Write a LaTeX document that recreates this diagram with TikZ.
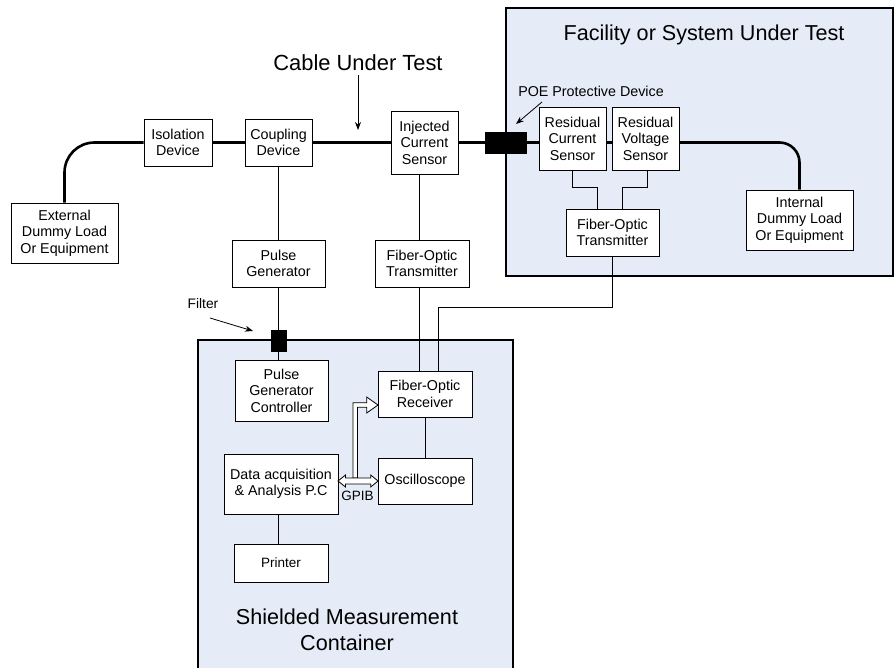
\documentclass[tikz,border=0pt]{standalone}
\usepackage{fontspec}
\setmainfont{Liberation Sans}
\usetikzlibrary{arrows.meta}
\definecolor{bgblue}{RGB}{230,236,247}
\begin{document}
\begin{tikzpicture}[x=1pt,y=-1pt,
  box/.style={draw, fill=white, line width=0.8pt, inner sep=0pt, align=center,
    font=\fontsize{14.3}{16.6}\selectfont},
  cable/.style={line width=2.6pt},
  wire/.style={line width=0.8pt},
  container/.style={draw, line width=1.8pt, fill=bgblue},
  ptr/.style={line width=0.8pt, -{Stealth[length=8pt,width=6pt]}},
  hollow/.style={draw, line width=0.8pt, fill=white, line join=miter},
  title/.style={font=\fontsize{21.6}{26.5}\selectfont, align=center, inner sep=0pt},
  lbl/.style={font=\fontsize{14.3}{16.6}\selectfont, inner sep=0pt}
]
\useasboundingbox (0,0) rectangle (895,668);
\fill[white] (0,0) rectangle (895,668);

% containers
\path[container] (506,8) rectangle (893,276);
\fill[bgblue] (198,340) rectangle (513,668);
\draw[line width=1.8pt] (198,670) -- (198,340) -- (513,340) -- (513,670);

% titles and labels
\node[title] (titleF) at (704,35) {Facility or System Under Test};
\node[title, font=\fontsize{21.9}{26}\selectfont] (titleC) at (358,63) {Cable Under Test};
\node[title] (titleS) at (347,630) {Shielded Measurement\\Container};
\node[lbl] (poelbl) at (591,91) {POE Protective Device};
\node[lbl, font=\fontsize{13.8}{16}\selectfont] (filtlbl) at (203,304) {Filter};

% boxes
\node[box, minimum width=107pt, minimum height=60pt] (ext) at (64.5,233) {External\\Dummy Load\\Or Equipment};
\node[box, minimum width=68pt, minimum height=47pt] (iso) at (178,142.5) {Isolation\\Device};
\node[box, minimum width=67pt, minimum height=47pt] (coup) at (278.5,142.5) {Coupling\\Device};
\node[box, minimum width=67pt, minimum height=63pt] (inj) at (424.5,142.5) {Injected\\Current\\Sensor};
\node[draw, fill=black, minimum width=41pt, minimum height=21pt, inner sep=0pt] (poe) at (505.5,142.5) {};
\node[box, minimum width=67pt, minimum height=63pt] (rcs) at (572.5,138.5) {Residual\\Current\\Sensor};
\node[box, minimum width=67pt, minimum height=63pt] (rvs) at (645.5,138.5) {Residual\\Voltage\\Sensor};
\node[box, minimum width=107pt, minimum height=60pt] (intl) at (799.5,220) {Internal\\Dummy Load\\Or Equipment};
\node[box, minimum width=93pt, minimum height=47pt] (fot2) at (612.5,232.5) {Fiber-Optic\\Transmitter};
\node[box, minimum width=93pt, minimum height=47pt] (pg) at (278.5,263.5) {Pulse\\Generator};
\node[box, minimum width=94pt, minimum height=47pt] (fot1) at (422,263.5) {Fiber-Optic\\Transmitter};
\node[draw, fill=black, minimum width=14.5pt, minimum height=21pt, inner sep=0pt] (filt) at (278.5,340.5) {};
\node[box, minimum width=93pt, minimum height=61pt] (pgc) at (281.5,390.5) {Pulse\\Generator\\Controller};
\node[box, minimum width=94pt, minimum height=46pt] (fore) at (425,394) {Fiber-Optic\\Receiver};
\node[box, minimum width=94pt, minimum height=46pt] (osc) at (425,481) {Oscilloscope};
\node[box, minimum width=114pt, minimum height=60pt] (daq) at (281,484) {Data acquisition\\\& Analysis P.C};
\node[box, minimum width=94pt, minimum height=38pt, font=\fontsize{13.5}{15}\selectfont] (prn) at (281,563) {Printer};
\node[lbl, font=\fontsize{13.5}{16}\selectfont] (gpib) at (357.5,495.5) {GPIB};

% cable under test
\draw[cable, rounded corners=30pt] (ext.north) |- (iso.west);
\draw[cable] (iso) -- (coup);
\draw[cable] (coup) -- (inj);
\draw[cable] (inj) -- (poe);
\draw[cable] (poe.east) -- (poe.east -| rcs.west);
\draw[cable] (rcs.east |- poe.east) -- (rvs.west |- poe.east);
\draw[cable, rounded corners=20pt] (rvs.east |- poe.east) -| (intl.north);

% wires
\coordinate (xl) at (419,0);
\coordinate (fbend) at (438,307);
\draw[wire] (coup) -- (pg);
\draw[wire] (pg) -- (filt);
\draw[wire] (filt.south) -- (filt.south |- pgc.north);
\draw[wire] (inj.south -| xl) -- (fot1.north -| xl);
\draw[wire] (fot1.south -| xl) -- (fore.north -| xl);
\draw[wire] (fot2.south) |- (fbend) -- (fbend |- fore.north);
\draw[wire] (fore) -- (osc);
\draw[wire] (rcs.south) -- ++(0,17) -| ([xshift=-15.5pt]fot2.north);
\draw[wire] ([xshift=1.5pt]rvs.south) -- ++(0,17) -| ([xshift=9.5pt]fot2.north);
\draw[wire] ([xshift=-3pt]daq.south) -- ([xshift=-3pt]prn.north);

% pointer arrows
\coordinate (cutA) at (358,75);
\coordinate (cutB) at (358,130);
\draw[ptr] (cutA) -- (cutB);
\coordinate (poeA) at (542,102);
\coordinate (poeB) at (516,124);
\draw[ptr] (poeA) -- (poeB);
\coordinate (filA) at (210,318);
\coordinate (filB) at (253,331);
\draw[ptr] (filA) -- (filB);

% GPIB hollow arrows
\path[hollow] (353,478) -- (353,402.7) -- (366.7,402.7) -- (366.7,397) -- (378,405)
  -- (366.7,413) -- (366.7,407.3) -- (357.5,407.3) -- (357.5,478) -- cycle;
\path[hollow] (338,481) -- (345.5,475) -- (345.5,478) -- (370.7,478) -- (370.7,475)
  -- (378,481) -- (370.7,487) -- (370.7,484) -- (345.5,484) -- (345.5,487) -- cycle;
\end{tikzpicture}
\end{document}
